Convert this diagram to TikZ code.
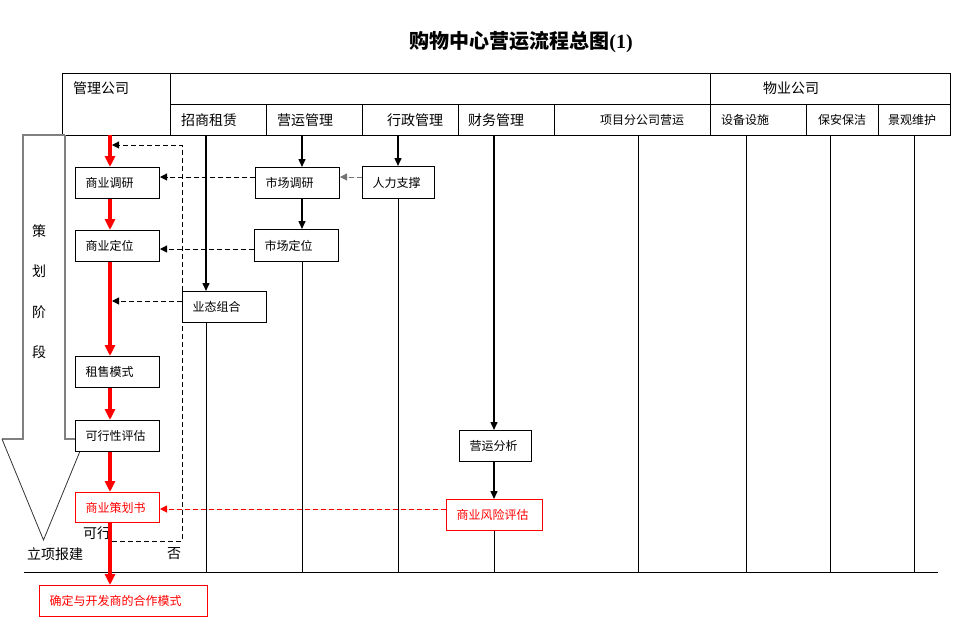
\documentclass[tikz,border=0pt]{standalone}
\usepackage{fontspec}
\newfontfamily\cjk{Noto Sans CJK SC}
\newfontfamily\lserif{Liberation Serif}
\usetikzlibrary{arrows.meta}
\begin{document}
\begin{tikzpicture}[x=1pt,y=-1pt,
  grid/.style={line width=1pt},
  lane/.style={line width=0.8pt},
  hdr/.style={font=\cjk\fontsize{14}{14}\selectfont,anchor=west,inner sep=0pt},
  hdrs/.style={font=\cjk\fontsize{12}{12}\selectfont,anchor=west,inner sep=0pt},
  lbl/.style={font=\cjk\fontsize{14}{14}\selectfont,inner sep=0pt},
  box/.style={draw,line width=1pt,fill=white,anchor=north west,
    inner xsep=10pt,inner ysep=0pt,minimum height=31pt,align=left,
    text width=#1-20pt,font=\cjk\fontsize{12}{12}\selectfont},
  rbox/.style={box=#1,draw=red,text=red},
  redarr/.style={draw=red,line width=4pt,-{Triangle[length=11pt,width=10pt]}},
  blkarr/.style={line width=1.5pt,-{Triangle[length=8pt,width=7pt]}},
  dsh/.style={line width=1pt,dash pattern=on 5pt off 3pt,-{Triangle[length=7pt,width=7pt]}},
  rdsh/.style={dsh,draw=red,fill=red},
  bigarrow/.style={draw=gray,line width=1.3pt},
  bighead/.style={draw=black!80,line width=0.8pt}
]
\useasboundingbox (0,0) rectangle (956,629);

% title
\node[font=\cjk\bfseries\fontsize{20}{20}\selectfont,inner sep=0pt] (title) at (521,42) {购物中心营运流程总图{\lserif\bfseries(1)}};

% header table
\draw[grid] (62,73) rectangle (950,135);
\draw[grid] (170,104) -- (950,104);
\draw[grid] (170,73) -- (170,135);
\draw[grid] (710,73) -- (710,135);
\foreach \x in {266,362,458,554,806,878} \draw[grid] (\x,104) -- (\x,135);

\node[hdr] (h0) at (73,88) {管理公司};
\node[hdr] (h8) at (763,88) {物业公司};
\node[hdr] (h1) at (181,120) {招商租赁};
\node[hdr] (h2) at (277,120) {营运管理};
\node[hdr] (h3) at (387,120) {行政管理};
\node[hdr] (h4) at (468,120) {财务管理};
\node[hdrs] (h5) at (600,120) {项目分公司营运};
\node[hdrs] (h6) at (721,120) {设备设施};
\node[hdrs] (h7) at (818,120) {保安保洁};
\node[hdrs] (h9) at (888,120) {景观维护};

% lane coordinates
\coordinate (tA) at (206,135); \coordinate (bA) at (206,572);
\coordinate (tB) at (302,135); \coordinate (bB) at (302,572);
\coordinate (tC) at (398,135); \coordinate (bC) at (398,572);
\coordinate (tD) at (494,135); \coordinate (bD) at (494,572);
\coordinate (r0) at (110,135);
\coordinate (bl) at (24,572); \coordinate (br) at (938,572);

% bottom line
\draw[lane] (bl) -- (br);
\foreach \x in {638,746,830,914} \draw[lane] (\x,135) -- (\x,572);

% big hollow arrow
\draw[bigarrow] (65,135) -- (23,135) -- (23,439) -- (2,439);
\draw[bigarrow] (65,135) -- (65,439) -- (85,439);
\draw[bighead] (2,439) -- (43.5,540) -- (85,439);

% stage text
\node[lbl] (s1) at (39,231) {策};
\node[lbl] (s2) at (39,271) {划};
\node[lbl] (s3) at (39,312) {阶};
\node[lbl] (s4) at (39,352) {段};
\node[lbl] (ok) at (97,533) {可行};
\node[lbl,anchor=west] (lx) at (27,554) {立项报建};
\node[lbl] (no) at (174,554) {否};

% boxes
\node[box=84pt] (byd) at (75,167) {商业调研};
\node[box=84pt] (bydw) at (75,230) {商业定位};
\node[box=84pt] (zsms) at (75,356) {租售模式};
\node[box=84pt] (kxx) at (75,420) {可行性评估};
\node[rbox=84pt,minimum height=30pt] (chs) at (75,492) {商业策划书};
\node[box=84pt] (scdy) at (255,167) {市场调研};
\node[box=72pt,minimum height=32pt] (rlzc) at (362,166) {人力支撑};
\node[box=84pt,minimum height=32pt] (scdw) at (254,229) {市场定位};
\node[box=84pt] (ytzh) at (182,291) {业态组合};
\node[box=72pt] (yyfx) at (459,430) {营运分析};
\node[rbox=96pt] (fxpg) at (446,499) {商业风险评估};
\node[rbox=168pt] (qd) at (39,585) {确定与开发商的合作模式};

% lane connectors
\draw[blkarr] (tA) -- (tA |- ytzh.north);
\draw[lane] (tA |- ytzh.south) -- (bA);
\draw[blkarr] (tB) -- (tB |- scdy.north);
\draw[blkarr] (tB |- scdy.south) -- (tB |- scdw.north);
\draw[lane] (tB |- scdw.south) -- (bB);
\draw[blkarr] (tC) -- (tC |- rlzc.north);
\draw[lane] (tC |- rlzc.south) -- (bC);
\draw[blkarr] (tD) -- (tD |- yyfx.north);
\draw[blkarr] (tD |- yyfx.south) -- (tD |- fxpg.north);
\draw[lane] (tD |- fxpg.south) -- (bD);

% dashed feedback arrows
\draw[dsh] (scdy.west |- 0,177) -- (byd.east |- 0,177);
\draw[dsh,draw=black!55,fill=black!55] (rlzc.west |- 0,177) -- (scdy.east |- 0,177);
\draw[dsh] (scdw.west |- 0,249) -- (bydw.east |- 0,249);
\draw[dsh] (ytzh.west |- 0,301) -- ([xshift=2pt]r0 |- 0,301);
\coordinate (loopS) at (112,541);
\coordinate (loopE) at (112,145);
\draw[dsh] (loopS) -- (182,541) -- (182,145) -- (loopE);
\draw[rdsh] (fxpg.west |- 0,509) -- (chs.east |- 0,509);

% red main flow
\draw[redarr] (r0) -- (r0 |- byd.north);
\draw[redarr] (r0 |- byd.south) -- (r0 |- bydw.north);
\draw[redarr] (r0 |- bydw.south) -- (r0 |- zsms.north);
\draw[redarr] (r0 |- zsms.south) -- (r0 |- kxx.north);
\draw[redarr] (r0 |- kxx.south) -- (r0 |- chs.north);
\draw[redarr] (r0 |- chs.south) -- (r0 |- qd.north);
\end{tikzpicture}
\end{document}
